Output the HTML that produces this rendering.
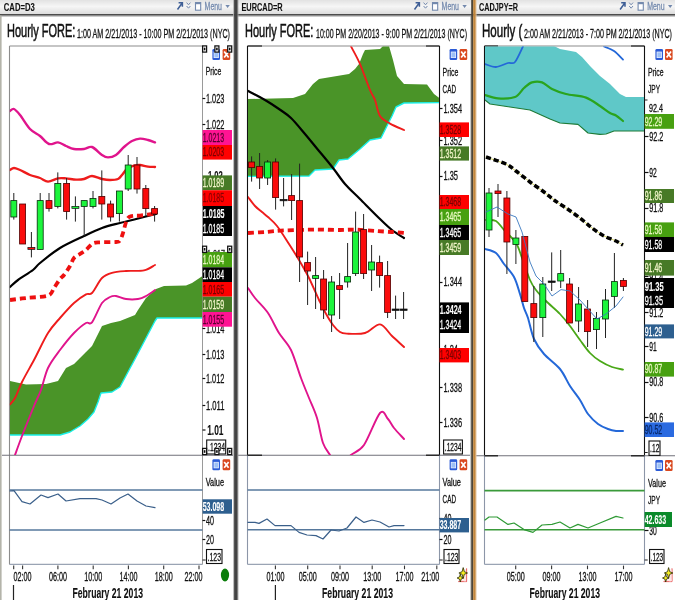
<!DOCTYPE html><html><head><meta charset="utf-8"><title>Hourly FOREX charts</title>
<style>html,body{margin:0;padding:0;background:#fff;overflow:hidden}svg{display:block;filter:blur(0.4px)}text{font-family:'Liberation Sans', Arial, sans-serif}</style></head><body>
<svg width="675" height="600" viewBox="0 0 675 600">
<defs><linearGradient id="tb" x1="0" y1="0" x2="0" y2="1"><stop offset="0" stop-color="#e2e2e2"/><stop offset="0.45" stop-color="#f6f6f6"/><stop offset="1" stop-color="#dcdcdc"/></linearGradient>
<linearGradient id="sh" x1="0" y1="0" x2="0" y2="1"><stop offset="0" stop-color="#8a8a8a"/><stop offset="1" stop-color="#ffffff"/></linearGradient>
<clipPath id="c1"><rect x="9.8" y="46.5" width="192.4" height="408.5"/></clipPath>
<clipPath id="c2"><rect x="248" y="46.5" width="191" height="408.5"/></clipPath>
<clipPath id="c3"><rect x="485" y="46.5" width="159" height="409"/></clipPath>
</defs>
<rect x="0.0" y="0.0" width="675.0" height="600.0" fill="#ffffff" />
<rect x="0.0" y="0.0" width="675.0" height="14.2" fill="url(#tb)" />
<rect x="0.0" y="14.2" width="675.0" height="1.3" fill="#222" />
<rect x="0.0" y="15.5" width="675.0" height="1.8" fill="url(#sh)" />
<line x1="9.5" y1="46.0" x2="202.5" y2="46.0" stroke="#8c8c8c" stroke-width="1.2" />
<line x1="9.5" y1="46.0" x2="9.5" y2="564.4" stroke="#8c8c8c" stroke-width="1.1" />
<line x1="202.5" y1="46.0" x2="202.5" y2="564.4" stroke="#9a9a9a" stroke-width="1.0" />
<line x1="2.0" y1="455.2" x2="233.0" y2="455.2" stroke="#70707a" stroke-width="1.1" />
<line x1="9.5" y1="564.4" x2="202.5" y2="564.4" stroke="#9aa4b4" stroke-width="1.1" />
<g clip-path="url(#c1)">
<polygon points="10.0,381.0 26.0,384.4 46.0,384.0 58.0,381.0 66.0,368.0 74.0,364.0 80.0,358.0 86.0,352.0 92.0,346.0 97.0,336.0 102.0,326.0 111.0,323.0 120.0,321.0 135.0,315.0 138.0,310.0 146.0,298.0 156.0,289.0 164.0,286.0 186.0,285.6 192.0,283.0 202.5,276.0 202.5,318.0 157.0,318.0 155.0,321.0 145.0,340.0 135.0,359.0 128.0,372.0 120.0,387.0 112.0,392.0 101.0,393.0 98.0,402.0 94.0,412.0 88.0,419.0 80.0,426.0 70.0,432.0 60.0,435.0 10.0,435.0" fill="#4a9428" />
<polyline points="202.5,318.0 157.0,318.0 155.0,321.0 145.0,340.0 135.0,359.0 128.0,372.0 120.0,387.0 112.0,392.0 101.0,393.0 98.0,402.0 94.0,412.0 88.0,419.0 80.0,426.0 70.0,432.0 60.0,435.0 10.0,435.0" fill="none" stroke="#19f0e8" stroke-width="1.4" stroke-linejoin="round" stroke-linecap="round" />
<path d="M10.0 111.0 C10.6 110.7 12.4 108.4 14.0 109.0 C15.6 109.6 17.4 111.8 20.0 115.0 C22.6 118.2 26.8 125.6 30.0 129.0 C33.2 132.4 37.0 133.6 40.0 136.0 C43.0 138.4 46.1 143.0 49.0 144.0 C51.9 145.0 55.3 142.1 58.0 142.4 C60.7 142.7 63.4 144.9 66.0 146.0 C68.6 147.1 71.1 148.5 74.0 149.0 C76.9 149.5 81.1 149.3 84.0 149.0 C86.9 148.7 89.1 146.0 92.0 147.0 C94.9 148.0 99.4 153.3 102.0 155.0 C104.6 156.7 105.8 157.4 108.0 157.4 C110.2 157.4 113.4 156.7 116.0 155.0 C118.6 153.3 121.4 149.2 124.0 147.0 C126.6 144.8 129.4 142.3 132.0 141.0 C134.6 139.7 137.4 138.8 140.0 138.6 C142.6 138.4 145.6 139.4 148.0 140.0 C150.4 140.6 153.9 142.0 155.0 142.4" fill="none" stroke="#e0148c" stroke-width="2.4" stroke-linejoin="round" stroke-linecap="round" />
<path d="M10.0 170.0 C10.6 169.7 12.4 168.0 14.0 168.0 C15.6 168.0 17.4 168.9 20.0 170.0 C22.6 171.1 26.8 173.7 30.0 175.0 C33.2 176.3 37.1 176.9 40.0 178.0 C42.9 179.1 45.1 181.5 48.0 181.6 C50.9 181.7 55.1 178.9 58.0 178.4 C60.9 177.9 63.1 178.2 66.0 178.4 C68.9 178.6 73.1 179.5 76.0 179.6 C78.9 179.7 81.4 179.6 84.0 179.0 C86.6 178.4 89.1 176.0 92.0 176.0 C94.9 176.0 99.1 178.4 102.0 179.0 C104.9 179.6 107.4 180.0 110.0 180.0 C112.6 180.0 116.1 179.8 118.0 179.0 C119.9 178.2 120.6 176.6 122.0 175.0 C123.4 173.4 125.1 170.5 127.0 169.0 C128.9 167.5 131.9 166.2 134.0 165.6 C136.1 165.0 137.8 164.8 140.0 165.0 C142.2 165.2 145.6 166.3 148.0 166.6 C150.4 166.9 153.9 166.9 155.0 167.0" fill="none" stroke="#ee1c1c" stroke-width="2.4" stroke-linejoin="round" stroke-linecap="round" />
<path d="M10.0 404.4 C10.8 403.4 13.1 401.6 15.0 398.0 C16.9 394.4 19.0 388.1 22.0 382.0 C25.0 375.9 29.8 367.8 34.0 360.0 C38.2 352.2 43.8 339.7 48.0 333.0 C52.2 326.3 55.8 322.8 60.0 318.0 C64.2 313.2 69.8 306.8 74.0 303.0 C78.2 299.2 83.1 296.0 86.0 294.4 C88.9 292.8 89.4 295.6 92.0 293.0 C94.6 290.4 98.8 281.2 102.0 278.0 C105.2 274.8 108.2 273.9 112.0 272.8 C115.8 271.7 120.9 271.4 126.0 271.0 C131.1 270.6 139.4 271.4 144.0 270.4 C148.6 269.4 153.2 265.9 155.0 265.0" fill="none" stroke="#ee1c1c" stroke-width="1.9" stroke-linejoin="round" stroke-linecap="round" />
<path d="M15.0 455.0 C16.1 452.0 19.0 443.8 22.0 436.0 C25.0 428.2 31.0 413.4 34.0 406.0 C37.0 398.6 38.8 396.1 41.0 390.0 C43.2 383.9 45.0 374.4 48.0 368.0 C51.0 361.6 55.8 355.6 60.0 350.0 C64.2 344.4 69.8 337.3 74.0 333.0 C78.2 328.7 83.1 324.7 86.0 323.0 C88.9 321.3 89.4 325.6 92.0 322.4 C94.6 319.2 99.1 307.1 102.0 303.0 C104.9 298.9 107.8 298.1 110.0 297.0 C112.2 295.9 113.4 295.7 116.0 296.0 C118.6 296.3 122.5 298.5 126.0 299.0 C129.5 299.5 134.8 299.5 138.0 299.0 C141.2 298.5 143.3 297.4 146.0 296.0 C148.7 294.6 153.6 291.0 155.0 290.0" fill="none" stroke="#e0148c" stroke-width="1.9" stroke-linejoin="round" stroke-linecap="round" />
<path d="M10.0 287.0 C11.3 285.9 14.3 282.7 18.0 280.0 C21.7 277.3 29.5 272.7 33.0 270.0 C36.5 267.3 35.7 266.5 40.0 263.0 C44.3 259.5 53.0 252.3 60.0 248.0 C67.0 243.7 77.3 239.2 84.0 236.0 C90.7 232.8 96.2 230.1 102.0 228.0 C107.8 225.9 113.9 224.6 120.0 223.0 C126.1 221.4 134.2 219.4 140.0 218.0 C145.8 216.6 153.4 214.6 156.0 214.0" fill="none" stroke="#000" stroke-width="2.2" stroke-linejoin="round" stroke-linecap="round" />
<path d="M10.0 300.0 C12.6 299.7 19.9 298.7 26.0 298.0 C32.1 297.3 43.5 297.2 48.0 295.6 C52.5 294.0 52.1 290.7 54.0 288.0 C55.9 285.3 58.4 281.1 60.0 279.0 C61.6 276.9 62.4 277.1 64.0 275.0 C65.6 272.9 68.4 268.7 70.0 266.0 C71.6 263.3 72.4 259.9 74.0 258.0 C75.6 256.1 78.1 255.3 80.0 254.0 C81.9 252.7 84.1 251.6 86.0 250.0 C87.9 248.4 90.1 245.2 92.0 244.0 C93.9 242.8 94.2 242.7 98.0 242.4 C101.8 242.1 112.5 242.3 116.0 242.0 C119.5 241.7 118.9 241.9 120.0 240.5 C121.1 239.1 121.9 236.4 123.0 233.0 C124.1 229.6 125.6 222.2 127.0 219.5 C128.4 216.8 129.9 216.6 132.0 216.0 C134.1 215.4 136.2 216.0 140.0 215.6 C143.8 215.2 153.4 213.9 156.0 213.6" fill="none" stroke="#ee1010" stroke-width="3.8" stroke-linejoin="round"  stroke-dasharray="6 4" stroke-linecap="butt"/>
<line x1="13.8" y1="193.0" x2="13.8" y2="219.6" stroke="#222" stroke-width="1" />
<rect x="10.8" y="200.6" width="6.0" height="16.4" fill="#1cf53c" stroke="#062a0a" stroke-width="0.8"/>
<line x1="22.6" y1="204.0" x2="22.6" y2="244.0" stroke="#222" stroke-width="1" />
<rect x="19.6" y="204.0" width="6.0" height="40.0" fill="#fa0c0c" stroke="#500000" stroke-width="0.8"/>
<line x1="31.4" y1="232.0" x2="31.4" y2="257.4" stroke="#222" stroke-width="1" />
<rect x="27.9" y="247.4" width="7.0" height="2.0" fill="#fa0c0c" stroke="#111" stroke-width="0.7"/>
<line x1="40.2" y1="193.0" x2="40.2" y2="249.4" stroke="#222" stroke-width="1" />
<rect x="37.2" y="200.6" width="6.0" height="48.8" fill="#1cf53c" stroke="#062a0a" stroke-width="0.8"/>
<line x1="49.0" y1="193.0" x2="49.0" y2="211.6" stroke="#222" stroke-width="1" />
<rect x="46.0" y="200.6" width="6.0" height="7.8" fill="#fa0c0c" stroke="#500000" stroke-width="0.8"/>
<line x1="57.8" y1="172.4" x2="57.8" y2="208.4" stroke="#222" stroke-width="1" />
<rect x="54.8" y="183.4" width="6.0" height="23.0" fill="#1cf53c" stroke="#062a0a" stroke-width="0.8"/>
<line x1="66.6" y1="178.0" x2="66.6" y2="219.6" stroke="#222" stroke-width="1" />
<rect x="63.6" y="183.4" width="6.0" height="28.2" fill="#fa0c0c" stroke="#500000" stroke-width="0.8"/>
<line x1="75.4" y1="196.4" x2="75.4" y2="221.6" stroke="#222" stroke-width="1" />
<rect x="71.9" y="206.4" width="7.0" height="2.0" fill="#1cf53c" stroke="#111" stroke-width="0.7"/>
<line x1="84.2" y1="200.6" x2="84.2" y2="236.0" stroke="#222" stroke-width="1" />
<rect x="81.2" y="200.6" width="6.0" height="5.8" fill="#1cf53c" stroke="#062a0a" stroke-width="0.8"/>
<line x1="93.0" y1="191.0" x2="93.0" y2="208.4" stroke="#222" stroke-width="1" />
<rect x="90.0" y="198.4" width="6.0" height="8.0" fill="#1cf53c" stroke="#062a0a" stroke-width="0.8"/>
<line x1="101.8" y1="170.4" x2="101.8" y2="219.6" stroke="#222" stroke-width="1" />
<rect x="98.8" y="196.4" width="6.0" height="7.6" fill="#fa0c0c" stroke="#500000" stroke-width="0.8"/>
<line x1="110.6" y1="200.6" x2="110.6" y2="221.6" stroke="#222" stroke-width="1" />
<rect x="107.6" y="204.0" width="6.0" height="13.0" fill="#fa0c0c" stroke="#500000" stroke-width="0.8"/>
<line x1="119.4" y1="191.0" x2="119.4" y2="221.6" stroke="#222" stroke-width="1" />
<rect x="116.4" y="191.0" width="6.0" height="22.6" fill="#1cf53c" stroke="#062a0a" stroke-width="0.8"/>
<line x1="128.2" y1="155.0" x2="128.2" y2="191.0" stroke="#222" stroke-width="1" />
<rect x="125.2" y="165.0" width="6.0" height="24.0" fill="#1cf53c" stroke="#062a0a" stroke-width="0.8"/>
<line x1="137.0" y1="157.0" x2="137.0" y2="193.6" stroke="#222" stroke-width="1" />
<rect x="134.0" y="165.0" width="6.0" height="24.0" fill="#fa0c0c" stroke="#500000" stroke-width="0.8"/>
<line x1="145.8" y1="185.0" x2="145.8" y2="216.0" stroke="#222" stroke-width="1" />
<rect x="142.8" y="188.6" width="6.0" height="20.0" fill="#fa0c0c" stroke="#500000" stroke-width="0.8"/>
<line x1="154.6" y1="206.0" x2="154.6" y2="221.6" stroke="#222" stroke-width="1" />
<rect x="151.6" y="208.6" width="6.0" height="5.4" fill="#fa0c0c" stroke="#500000" stroke-width="0.8"/>
</g>
<line x1="9.5" y1="490.0" x2="202.5" y2="490.0" stroke="#56789c" stroke-width="1.6" />
<line x1="9.5" y1="530.0" x2="202.5" y2="530.0" stroke="#56789c" stroke-width="1.6" />
<polyline points="10.0,491.0 14.0,490.6 22.0,501.6 30.0,504.0 41.0,495.0 48.0,497.6 58.0,494.0 66.0,501.0 80.0,498.6 96.0,498.6 102.0,500.0 111.0,504.0 120.0,498.0 128.0,494.0 137.0,501.0 146.0,506.0 155.0,507.6" fill="none" stroke="#3a5f8a" stroke-width="1.2" stroke-linejoin="round" stroke-linecap="round" />
<line x1="22.6" y1="565.6" x2="22.6" y2="569.2" stroke="#333" stroke-width="1.1" />
<text x="13.6" y="580.5" font-size="12" font-weight="normal" fill="#111" stroke="#111" stroke-width="0.3" textLength="18.0" lengthAdjust="spacingAndGlyphs" >02:00</text>
<line x1="57.9" y1="565.6" x2="57.9" y2="569.2" stroke="#333" stroke-width="1.1" />
<text x="48.9" y="580.5" font-size="12" font-weight="normal" fill="#111" stroke="#111" stroke-width="0.3" textLength="18.0" lengthAdjust="spacingAndGlyphs" >06:00</text>
<line x1="93.2" y1="565.6" x2="93.2" y2="569.2" stroke="#333" stroke-width="1.1" />
<text x="84.2" y="580.5" font-size="12" font-weight="normal" fill="#111" stroke="#111" stroke-width="0.3" textLength="18.0" lengthAdjust="spacingAndGlyphs" >10:00</text>
<line x1="128.4" y1="565.6" x2="128.4" y2="569.2" stroke="#333" stroke-width="1.1" />
<text x="119.4" y="580.5" font-size="12" font-weight="normal" fill="#111" stroke="#111" stroke-width="0.3" textLength="18.0" lengthAdjust="spacingAndGlyphs" >14:00</text>
<line x1="163.7" y1="565.6" x2="163.7" y2="569.2" stroke="#333" stroke-width="1.1" />
<text x="154.7" y="580.5" font-size="12" font-weight="normal" fill="#111" stroke="#111" stroke-width="0.3" textLength="18.0" lengthAdjust="spacingAndGlyphs" >18:00</text>
<line x1="199.0" y1="565.6" x2="199.0" y2="569.2" stroke="#333" stroke-width="1.1" />
<text x="184.4" y="580.5" font-size="12" font-weight="normal" fill="#111" stroke="#111" stroke-width="0.3" textLength="18.0" lengthAdjust="spacingAndGlyphs" >22:00</text>
<line x1="13.7" y1="565.6" x2="13.7" y2="569.2" stroke="#333" stroke-width="1.1" />
<line x1="13.5" y1="585.0" x2="13.5" y2="600.0" stroke="#222" stroke-width="1.2" />
<text x="72.5" y="598.0" font-size="14" font-weight="bold" fill="#111" stroke="#111" stroke-width="0.12" textLength="70.5" lengthAdjust="spacingAndGlyphs" >February 21 2013</text>
<line x1="202.5" y1="98.5" x2="205.3" y2="98.5" stroke="#111" stroke-width="1.2" />
<text x="205.9" y="102.9" font-size="12" font-weight="normal" fill="#111" stroke="#111" stroke-width="0.3" textLength="18.5" lengthAdjust="spacingAndGlyphs" >1.023</text>
<line x1="202.5" y1="124.5" x2="205.3" y2="124.5" stroke="#111" stroke-width="1.2" />
<text x="205.9" y="128.9" font-size="12" font-weight="normal" fill="#111" stroke="#111" stroke-width="0.3" textLength="18.5" lengthAdjust="spacingAndGlyphs" >1.022</text>
<text x="208.0" y="180.0" font-size="12" font-weight="bold" fill="#111" stroke="#111" stroke-width="0.12" textLength="14.8" lengthAdjust="spacingAndGlyphs" >1.02</text>
<rect x="202.6" y="130.0" width="29.4" height="15.0" fill="#ff1493" />
<text x="202.7" y="141.6" font-size="12" font-weight="normal" fill="#5a0030" stroke="#5a0030" stroke-width="0.3" textLength="21.4" lengthAdjust="spacingAndGlyphs" >1.0213</text>
<rect x="202.6" y="145.0" width="29.4" height="14.6" fill="#ff0000" />
<text x="202.7" y="156.4" font-size="12" font-weight="normal" fill="#7a0000" stroke="#7a0000" stroke-width="0.3" textLength="21.4" lengthAdjust="spacingAndGlyphs" >1.0203</text>
<rect x="202.6" y="175.4" width="29.4" height="14.8" fill="#477a26" />
<text x="202.7" y="186.9" font-size="12" font-weight="normal" fill="#f0f4c8" stroke="#f0f4c8" stroke-width="0.3" textLength="21.4" lengthAdjust="spacingAndGlyphs" >1.0189</text>
<rect x="202.6" y="190.2" width="29.4" height="15.8" fill="#ff0000" />
<text x="202.7" y="202.2" font-size="12" font-weight="normal" fill="#8a0000" stroke="#8a0000" stroke-width="0.3" textLength="21.4" lengthAdjust="spacingAndGlyphs" >1.0185</text>
<rect x="203.0" y="206.0" width="29.0" height="30.0" fill="#000" />
<text x="202.7" y="217.7" font-size="12" font-weight="bold" fill="#fff" stroke="#fff" stroke-width="0.12" textLength="21.9" lengthAdjust="spacingAndGlyphs" >1.0185</text>
<text x="202.7" y="232.9" font-size="12" font-weight="normal" fill="#fff" stroke="#fff" stroke-width="0.3" textLength="21.5" lengthAdjust="spacingAndGlyphs" >1.0185</text>
<text x="207.0" y="257.5" font-size="11" font-weight="normal" fill="#222" stroke="#222" stroke-width="0.3" textLength="18.0" lengthAdjust="spacingAndGlyphs" >1.017</text>
<rect x="202.6" y="252.0" width="29.4" height="15.3" fill="#47a010" />
<text x="202.7" y="263.8" font-size="12" font-weight="normal" fill="#e8f8c0" stroke="#e8f8c0" stroke-width="0.3" textLength="21.4" lengthAdjust="spacingAndGlyphs" >1.0184</text>
<rect x="202.6" y="267.3" width="29.4" height="14.7" fill="#000" />
<text x="202.7" y="278.8" font-size="12" font-weight="normal" fill="#fff" stroke="#fff" stroke-width="0.3" textLength="21.4" lengthAdjust="spacingAndGlyphs" >1.0184</text>
<rect x="202.6" y="282.0" width="29.4" height="14.7" fill="#ff0000" />
<text x="202.7" y="293.5" font-size="12" font-weight="normal" fill="#7a0000" stroke="#7a0000" stroke-width="0.3" textLength="21.4" lengthAdjust="spacingAndGlyphs" >1.0165</text>
<rect x="202.6" y="296.7" width="29.4" height="15.3" fill="#477a26" />
<text x="202.7" y="308.5" font-size="12" font-weight="normal" fill="#f0f4c8" stroke="#f0f4c8" stroke-width="0.3" textLength="21.4" lengthAdjust="spacingAndGlyphs" >1.0159</text>
<line x1="202.5" y1="328.5" x2="205.3" y2="328.5" stroke="#111" stroke-width="1.2" />
<text x="205.9" y="332.8" font-size="12" font-weight="normal" fill="#111" stroke="#111" stroke-width="0.3" textLength="18.5" lengthAdjust="spacingAndGlyphs" >1.014</text>
<rect x="202.6" y="312.0" width="29.4" height="14.7" fill="#ff1493" />
<text x="202.7" y="323.5" font-size="12" font-weight="normal" fill="#5a0030" stroke="#5a0030" stroke-width="0.3" textLength="21.4" lengthAdjust="spacingAndGlyphs" >1.0155</text>
<line x1="202.5" y1="354.5" x2="205.3" y2="354.5" stroke="#111" stroke-width="1.2" />
<text x="205.9" y="358.6" font-size="12" font-weight="normal" fill="#111" stroke="#111" stroke-width="0.3" textLength="18.5" lengthAdjust="spacingAndGlyphs" >1.013</text>
<line x1="202.5" y1="378.5" x2="205.3" y2="378.5" stroke="#111" stroke-width="1.2" />
<text x="205.9" y="382.9" font-size="12" font-weight="normal" fill="#111" stroke="#111" stroke-width="0.3" textLength="18.5" lengthAdjust="spacingAndGlyphs" >1.012</text>
<line x1="202.5" y1="405.5" x2="205.3" y2="405.5" stroke="#111" stroke-width="1.2" />
<text x="205.9" y="409.5" font-size="12" font-weight="normal" fill="#111" stroke="#111" stroke-width="0.3" textLength="18.5" lengthAdjust="spacingAndGlyphs" >1.011</text>
<line x1="202.5" y1="430.0" x2="205.5" y2="430.0" stroke="#222" stroke-width="1.3" />
<text x="207.2" y="435.3" font-size="14" font-weight="bold" fill="#111" stroke="#111" stroke-width="0.12" textLength="16.3" lengthAdjust="spacingAndGlyphs" >1.01</text>
<rect x="206.7" y="440.0" width="19.0" height="14.0" fill="#fff" stroke="#111" stroke-width="1.1"/>
<text x="208.0" y="451.3" font-size="11" font-weight="normal" fill="#111" stroke="#111" stroke-width="0.3" textLength="17.0" lengthAdjust="spacingAndGlyphs" >.1234</text>
<g transform="translate(212.4,49.0)"><rect x="0" y="0" width="7.6" height="11" rx="1.3" fill="#2b5bd6"/><rect x="1.6" y="3" width="4.4" height="5.6" fill="#9cc0f6" stroke="#e8f0ff" stroke-width="0.8"/></g>
<g transform="translate(222.6,49.0)"><rect x="0" y="0" width="7.6" height="11" rx="1.3" fill="#d9481f"/><path d="M1.6 2.6 L6 8.4 M6 2.6 L1.6 8.4" stroke="#fff" stroke-width="1.7" fill="none"/></g>
<text x="205.7" y="75.3" font-size="11" font-weight="normal" fill="#111" stroke="#111" stroke-width="0.3" textLength="15.6" lengthAdjust="spacingAndGlyphs" >Price</text>
<g transform="translate(212.4,459.3)"><rect x="0" y="0" width="7.6" height="11" rx="1.3" fill="#2b5bd6"/><rect x="1.6" y="3" width="4.4" height="5.6" fill="#9cc0f6" stroke="#e8f0ff" stroke-width="0.8"/></g>
<g transform="translate(222.6,459.3)"><rect x="0" y="0" width="7.6" height="11" rx="1.3" fill="#d9481f"/><path d="M1.6 2.6 L6 8.4 M6 2.6 L1.6 8.4" stroke="#fff" stroke-width="1.7" fill="none"/></g>
<text x="205.7" y="486.0" font-size="11" font-weight="normal" fill="#111" stroke="#111" stroke-width="0.3" textLength="18.3" lengthAdjust="spacingAndGlyphs" >Value</text>
<rect x="202.6" y="499.3" width="29.4" height="14.4" fill="#2d5f8f" />
<text x="202.7" y="510.6" font-size="12" font-weight="bold" fill="#fff" stroke="#fff" stroke-width="0.12" textLength="21.5" lengthAdjust="spacingAndGlyphs" >53.098</text>
<line x1="202.5" y1="520.5" x2="205.3" y2="520.5" stroke="#111" stroke-width="1.2" />
<text x="205.9" y="524.6" font-size="12" font-weight="normal" fill="#111" stroke="#111" stroke-width="0.3" textLength="8.0" lengthAdjust="spacingAndGlyphs" >40</text>
<line x1="202.5" y1="539.5" x2="205.3" y2="539.5" stroke="#111" stroke-width="1.2" />
<text x="205.9" y="543.8" font-size="12" font-weight="normal" fill="#111" stroke="#111" stroke-width="0.3" textLength="8.0" lengthAdjust="spacingAndGlyphs" >20</text>
<line x1="202.5" y1="560.0" x2="205.7" y2="560.0" stroke="#222" stroke-width="1" />
<rect x="206.5" y="549.5" width="15.5" height="14.0" fill="#fff" stroke="#111" stroke-width="1.1"/>
<text x="207.6" y="560.6" font-size="11" font-weight="normal" fill="#111" stroke="#111" stroke-width="0.3" textLength="13.4" lengthAdjust="spacingAndGlyphs" >.123</text>
<ellipse cx="225" cy="575" rx="4.1" ry="6.4" fill="#0a7d0a"/>
<line x1="247.5" y1="46.0" x2="439.5" y2="46.0" stroke="#8c8c8c" stroke-width="1.2" />
<line x1="247.5" y1="46.0" x2="262.0" y2="46.0" stroke="#222" stroke-width="1.2" />
<line x1="426.0" y1="46.0" x2="439.5" y2="46.0" stroke="#222" stroke-width="1.2" />
<line x1="247.5" y1="46.0" x2="247.5" y2="455.0" stroke="#111" stroke-width="1.1" />
<line x1="247.5" y1="455.0" x2="247.5" y2="564.4" stroke="#8c96a8" stroke-width="1.1" />
<line x1="439.5" y1="46.0" x2="439.5" y2="455.0" stroke="#111" stroke-width="1.1" />
<line x1="439.5" y1="455.0" x2="439.5" y2="564.4" stroke="#8c96a8" stroke-width="1.1" />
<line x1="238.0" y1="455.2" x2="470.0" y2="455.2" stroke="#70707a" stroke-width="1.1" />
<line x1="247.5" y1="455.2" x2="262.0" y2="455.2" stroke="#111" stroke-width="1.2" />
<line x1="426.0" y1="455.2" x2="439.5" y2="455.2" stroke="#111" stroke-width="1.2" />
<line x1="247.5" y1="564.4" x2="439.5" y2="564.4" stroke="#9aa4b4" stroke-width="1.1" />
<g clip-path="url(#c2)">
<polygon points="248.0,99.0 293.0,98.0 305.0,94.0 313.0,84.0 319.0,79.0 337.0,76.0 349.0,74.0 355.0,69.0 359.0,64.0 363.0,54.0 365.0,50.0 380.0,49.0 383.0,46.0 389.0,46.0 393.0,60.0 397.0,76.0 404.0,84.0 427.0,84.4 434.0,94.0 439.5,98.0 439.5,102.6 404.0,103.0 396.0,107.0 392.0,116.0 388.0,124.0 381.0,138.0 370.0,140.0 360.0,149.0 348.0,159.0 339.0,160.0 333.0,169.0 315.0,170.0 309.0,176.0 248.0,176.4" fill="#4a9428" />
<polyline points="439.5,102.6 404.0,103.0 396.0,107.0 392.0,116.0 388.0,124.0 381.0,138.0 370.0,140.0 360.0,149.0 348.0,159.0 339.0,160.0 333.0,169.0 315.0,170.0 309.0,176.0 248.0,176.4" fill="none" stroke="#19f0e8" stroke-width="1.4" stroke-linejoin="round" stroke-linecap="round" />
<path d="M351.0 46.4 C352.4 49.2 357.0 57.0 360.0 64.0 C363.0 71.0 367.6 84.2 370.0 90.0 C372.4 95.8 373.4 95.8 375.0 100.0 C376.6 104.2 377.6 112.2 380.0 116.0 C382.4 119.8 386.2 121.4 390.0 123.6 C393.8 125.8 401.8 129.0 404.0 130.0" fill="none" stroke="#ee1c1c" stroke-width="1.9" stroke-linejoin="round" stroke-linecap="round" />
<path d="M248.0 197.0 C249.1 198.4 252.8 203.6 255.0 206.0 C257.2 208.4 259.9 210.2 262.0 212.0 C264.1 213.8 265.6 214.8 268.0 217.0 C270.4 219.2 273.6 221.7 277.0 226.0 C280.4 230.3 285.5 238.6 289.0 244.0 C292.5 249.4 295.8 254.6 299.0 260.0 C302.2 265.4 305.8 271.6 309.0 278.0 C312.2 284.4 316.4 294.6 319.0 300.0 C321.6 305.4 322.8 308.0 325.0 312.0 C327.2 316.0 330.6 321.8 333.0 325.0 C335.4 328.2 337.8 330.6 340.0 332.0 C342.2 333.4 343.0 333.4 347.0 333.6 C351.0 333.8 359.7 334.5 365.0 333.0 C370.3 331.5 375.7 323.9 380.0 324.4 C384.3 324.9 388.2 332.4 392.0 336.0 C395.8 339.6 402.1 345.2 404.0 347.0" fill="none" stroke="#ee1c1c" stroke-width="1.9" stroke-linejoin="round" stroke-linecap="round" />
<path d="M248.0 288.0 C249.1 289.6 251.8 294.0 255.0 298.0 C258.2 302.0 264.2 307.4 268.0 313.0 C271.8 318.6 275.3 327.1 279.0 333.0 C282.7 338.9 287.5 342.8 291.0 350.0 C294.5 357.2 298.1 370.3 301.0 378.0 C303.9 385.7 306.4 391.6 309.0 398.0 C311.6 404.4 314.8 410.8 317.0 418.0 C319.2 425.2 320.9 437.1 323.0 443.0 C325.1 448.9 328.4 452.0 330.0 455.0 C331.6 458.0 332.5 460.9 333.0 462.0" fill="none" stroke="#e0148c" stroke-width="1.9" stroke-linejoin="round" stroke-linecap="round" />
<path d="M346.0 462.0 C346.8 460.9 348.1 457.7 351.0 455.0 C353.9 452.3 359.4 451.7 364.0 445.0 C368.6 438.3 376.2 417.2 380.0 413.0 C383.8 408.8 385.8 416.6 388.0 419.0 C390.2 421.4 391.4 424.8 394.0 428.0 C396.6 431.2 402.4 437.2 404.0 439.0" fill="none" stroke="#e0148c" stroke-width="1.9" stroke-linejoin="round" stroke-linecap="round" />
<path d="M248.0 91.0 C250.7 92.4 260.0 97.1 265.0 100.0 C270.0 102.9 274.8 106.1 279.0 109.0 C283.2 111.9 286.8 114.0 291.0 118.0 C295.2 122.0 300.5 128.7 305.0 134.0 C309.5 139.3 314.5 145.6 319.0 151.0 C323.5 156.4 328.8 162.7 333.0 168.0 C337.2 173.3 340.7 179.0 345.0 184.0 C349.3 189.0 354.4 193.4 360.0 199.0 C365.6 204.6 374.9 214.0 380.0 219.0 C385.1 224.0 388.2 227.0 392.0 230.0 C395.8 233.0 402.1 236.7 404.0 238.0" fill="none" stroke="#000" stroke-width="2.2" stroke-linejoin="round" stroke-linecap="round" />
<path d="M248.0 233.0 C250.7 232.8 259.1 232.4 265.0 232.0 C270.9 231.6 277.0 230.8 285.0 230.4 C293.0 230.0 306.2 229.7 315.0 229.6 C323.8 229.5 333.4 230.0 340.0 230.0 C346.6 230.0 350.2 229.4 356.0 229.6 C361.8 229.8 370.2 230.6 376.0 231.0 C381.8 231.4 387.5 231.7 392.0 232.0 C396.5 232.3 402.1 232.8 404.0 233.0" fill="none" stroke="#ee1010" stroke-width="3.8" stroke-linejoin="round"  stroke-dasharray="6 4" stroke-linecap="butt"/>
<line x1="251.6" y1="156.4" x2="251.6" y2="181.6" stroke="#222" stroke-width="1" />
<rect x="248.6" y="162.0" width="6.0" height="5.6" fill="#fa0c0c" stroke="#500000" stroke-width="0.8"/>
<line x1="259.6" y1="153.0" x2="259.6" y2="189.0" stroke="#222" stroke-width="1" />
<rect x="256.6" y="166.4" width="6.0" height="11.6" fill="#fa0c0c" stroke="#500000" stroke-width="0.8"/>
<line x1="267.6" y1="160.0" x2="267.6" y2="185.0" stroke="#222" stroke-width="1" />
<rect x="264.6" y="162.0" width="6.0" height="16.0" fill="#1cf53c" stroke="#062a0a" stroke-width="0.8"/>
<line x1="275.6" y1="158.4" x2="275.6" y2="209.6" stroke="#222" stroke-width="1" />
<rect x="272.6" y="162.0" width="6.0" height="35.6" fill="#fa0c0c" stroke="#500000" stroke-width="0.8"/>
<line x1="283.6" y1="178.0" x2="283.6" y2="206.4" stroke="#222" stroke-width="1" />
<rect x="280.1" y="199.4" width="7.0" height="1.4" fill="#111" stroke="#111" stroke-width="0.7"/>
<line x1="291.6" y1="174.0" x2="291.6" y2="220.0" stroke="#222" stroke-width="1" />
<rect x="288.6" y="195.6" width="6.0" height="5.0" fill="#fa0c0c" stroke="#500000" stroke-width="0.8"/>
<line x1="299.6" y1="163.6" x2="299.6" y2="282.0" stroke="#222" stroke-width="1" />
<rect x="296.6" y="200.6" width="6.0" height="56.4" fill="#fa0c0c" stroke="#500000" stroke-width="0.8"/>
<line x1="307.6" y1="251.6" x2="307.6" y2="305.0" stroke="#222" stroke-width="1" />
<rect x="304.6" y="262.6" width="6.0" height="8.4" fill="#fa0c0c" stroke="#500000" stroke-width="0.8"/>
<line x1="315.6" y1="257.0" x2="315.6" y2="309.0" stroke="#222" stroke-width="1" />
<rect x="312.6" y="275.6" width="6.0" height="2.8" fill="#1cf53c" stroke="#062a0a" stroke-width="0.8"/>
<line x1="323.6" y1="270.0" x2="323.6" y2="319.0" stroke="#222" stroke-width="1" />
<rect x="320.6" y="279.0" width="6.0" height="31.0" fill="#fa0c0c" stroke="#500000" stroke-width="0.8"/>
<line x1="331.6" y1="276.0" x2="331.6" y2="332.0" stroke="#222" stroke-width="1" />
<rect x="328.6" y="282.0" width="6.0" height="33.0" fill="#1cf53c" stroke="#062a0a" stroke-width="0.8"/>
<line x1="339.6" y1="273.0" x2="339.6" y2="319.0" stroke="#222" stroke-width="1" />
<rect x="336.6" y="285.6" width="6.0" height="3.8" fill="#fa0c0c" stroke="#500000" stroke-width="0.8"/>
<line x1="347.6" y1="243.0" x2="347.6" y2="287.6" stroke="#222" stroke-width="1" />
<rect x="344.6" y="276.6" width="6.0" height="5.4" fill="#1cf53c" stroke="#062a0a" stroke-width="0.8"/>
<line x1="355.6" y1="211.6" x2="355.6" y2="276.0" stroke="#222" stroke-width="1" />
<rect x="352.6" y="232.0" width="6.0" height="41.6" fill="#1cf53c" stroke="#062a0a" stroke-width="0.8"/>
<line x1="363.6" y1="214.0" x2="363.6" y2="279.0" stroke="#222" stroke-width="1" />
<rect x="360.6" y="229.6" width="6.0" height="44.0" fill="#fa0c0c" stroke="#500000" stroke-width="0.8"/>
<line x1="371.6" y1="245.0" x2="371.6" y2="291.0" stroke="#222" stroke-width="1" />
<rect x="368.6" y="262.0" width="6.0" height="8.0" fill="#1cf53c" stroke="#062a0a" stroke-width="0.8"/>
<line x1="379.6" y1="255.6" x2="379.6" y2="287.6" stroke="#222" stroke-width="1" />
<rect x="376.6" y="262.6" width="6.0" height="13.0" fill="#fa0c0c" stroke="#500000" stroke-width="0.8"/>
<line x1="387.6" y1="261.0" x2="387.6" y2="318.0" stroke="#222" stroke-width="1" />
<rect x="384.6" y="275.6" width="6.0" height="36.8" fill="#fa0c0c" stroke="#500000" stroke-width="0.8"/>
<line x1="395.6" y1="295.6" x2="395.6" y2="319.0" stroke="#222" stroke-width="1" />
<rect x="392.1" y="309.0" width="7.0" height="1.4" fill="#111" stroke="#111" stroke-width="0.7"/>
<line x1="403.6" y1="292.0" x2="403.6" y2="319.0" stroke="#222" stroke-width="1" />
<rect x="400.1" y="309.0" width="7.0" height="1.4" fill="#111" stroke="#111" stroke-width="0.7"/>
</g>
<line x1="247.5" y1="490.0" x2="439.5" y2="490.0" stroke="#56789c" stroke-width="1.6" />
<line x1="247.5" y1="529.8" x2="439.5" y2="529.8" stroke="#56789c" stroke-width="1.6" />
<polyline points="248.0,522.4 255.0,522.4 259.0,523.4 267.0,519.0 275.0,525.6 291.0,525.6 299.0,532.4 307.0,535.0 316.0,535.6 323.0,539.0 331.0,530.0 339.0,531.0 347.0,528.0 356.0,517.0 364.0,522.4 372.0,520.0 380.0,522.0 389.0,527.0 394.0,525.6 404.0,525.6" fill="none" stroke="#3a5f8a" stroke-width="1.2" stroke-linejoin="round" stroke-linecap="round" />
<line x1="275.4" y1="565.6" x2="275.4" y2="569.2" stroke="#333" stroke-width="1.1" />
<text x="266.4" y="580.5" font-size="12" font-weight="normal" fill="#111" stroke="#111" stroke-width="0.3" textLength="18.0" lengthAdjust="spacingAndGlyphs" >01:00</text>
<line x1="307.7" y1="565.6" x2="307.7" y2="569.2" stroke="#333" stroke-width="1.1" />
<text x="298.7" y="580.5" font-size="12" font-weight="normal" fill="#111" stroke="#111" stroke-width="0.3" textLength="18.0" lengthAdjust="spacingAndGlyphs" >05:00</text>
<line x1="340.0" y1="565.6" x2="340.0" y2="569.2" stroke="#333" stroke-width="1.1" />
<text x="331.0" y="580.5" font-size="12" font-weight="normal" fill="#111" stroke="#111" stroke-width="0.3" textLength="18.0" lengthAdjust="spacingAndGlyphs" >09:00</text>
<line x1="372.2" y1="565.6" x2="372.2" y2="569.2" stroke="#333" stroke-width="1.1" />
<text x="363.2" y="580.5" font-size="12" font-weight="normal" fill="#111" stroke="#111" stroke-width="0.3" textLength="18.0" lengthAdjust="spacingAndGlyphs" >13:00</text>
<line x1="404.5" y1="565.6" x2="404.5" y2="569.2" stroke="#333" stroke-width="1.1" />
<text x="395.5" y="580.5" font-size="12" font-weight="normal" fill="#111" stroke="#111" stroke-width="0.3" textLength="18.0" lengthAdjust="spacingAndGlyphs" >17:00</text>
<line x1="436.8" y1="565.6" x2="436.8" y2="569.2" stroke="#333" stroke-width="1.1" />
<text x="421.3" y="580.5" font-size="12" font-weight="normal" fill="#111" stroke="#111" stroke-width="0.3" textLength="18.0" lengthAdjust="spacingAndGlyphs" >21:00</text>
<line x1="275.4" y1="585.0" x2="275.4" y2="600.0" stroke="#222" stroke-width="1.2" />
<text x="322.0" y="598.0" font-size="14" font-weight="bold" fill="#111" stroke="#111" stroke-width="0.12" textLength="71.0" lengthAdjust="spacingAndGlyphs" >February 21 2013</text>
<g transform="translate(449.6,49.0)"><rect x="0" y="0" width="7.6" height="11" rx="1.3" fill="#2b5bd6"/><rect x="1.6" y="3" width="4.4" height="5.6" fill="#9cc0f6" stroke="#e8f0ff" stroke-width="0.8"/></g>
<g transform="translate(459.6,49.0)"><rect x="0" y="0" width="7.6" height="11" rx="1.3" fill="#d9481f"/><path d="M1.6 2.6 L6 8.4 M6 2.6 L1.6 8.4" stroke="#fff" stroke-width="1.7" fill="none"/></g>
<text x="442.6" y="76.0" font-size="11" font-weight="normal" fill="#111" stroke="#111" stroke-width="0.3" textLength="15.8" lengthAdjust="spacingAndGlyphs" >Price</text>
<text x="442.6" y="93.0" font-size="11" font-weight="normal" fill="#111" stroke="#111" stroke-width="0.3" textLength="13.4" lengthAdjust="spacingAndGlyphs" >CAD</text>
<line x1="439.5" y1="108.5" x2="442.5" y2="108.5" stroke="#111" stroke-width="1.2" />
<text x="443.5" y="113.2" font-size="12" font-weight="normal" fill="#111" stroke="#111" stroke-width="0.3" textLength="18.5" lengthAdjust="spacingAndGlyphs" >1.354</text>
<line x1="439.5" y1="140.5" x2="442.5" y2="140.5" stroke="#111" stroke-width="1.2" />
<text x="443.5" y="145.2" font-size="12" font-weight="normal" fill="#111" stroke="#111" stroke-width="0.3" textLength="18.5" lengthAdjust="spacingAndGlyphs" >1.352</text>
<rect x="439.6" y="122.4" width="29.4" height="14.6" fill="#ff0000" />
<text x="439.7" y="133.8" font-size="12" font-weight="normal" fill="#7a0000" stroke="#7a0000" stroke-width="0.3" textLength="21.4" lengthAdjust="spacingAndGlyphs" >1.3528</text>
<rect x="439.6" y="146.4" width="29.4" height="14.2" fill="#477a26" />
<text x="439.7" y="157.6" font-size="12" font-weight="normal" fill="#f0f4c8" stroke="#f0f4c8" stroke-width="0.3" textLength="21.4" lengthAdjust="spacingAndGlyphs" >1.3512</text>
<line x1="439.5" y1="176.5" x2="442.5" y2="176.5" stroke="#111" stroke-width="1.2" />
<text x="443.5" y="180.2" font-size="12" font-weight="normal" fill="#111" stroke="#111" stroke-width="0.3" textLength="14.5" lengthAdjust="spacingAndGlyphs" >1.35</text>
<rect x="439.6" y="195.0" width="29.4" height="14.0" fill="#ff0000" />
<text x="439.7" y="206.1" font-size="12" font-weight="normal" fill="#7a0000" stroke="#7a0000" stroke-width="0.3" textLength="21.4" lengthAdjust="spacingAndGlyphs" >1.3468</text>
<rect x="439.6" y="209.0" width="29.4" height="16.0" fill="#47a010" />
<text x="439.7" y="221.1" font-size="12" font-weight="normal" fill="#e8f8c0" stroke="#e8f8c0" stroke-width="0.3" textLength="21.4" lengthAdjust="spacingAndGlyphs" >1.3465</text>
<rect x="439.6" y="225.0" width="29.4" height="15.0" fill="#000" />
<text x="439.7" y="236.6" font-size="12" font-weight="normal" fill="#fff" stroke="#fff" stroke-width="0.3" textLength="21.4" lengthAdjust="spacingAndGlyphs" >1.3465</text>
<rect x="439.6" y="240.0" width="29.4" height="15.0" fill="#477a26" />
<text x="439.7" y="251.6" font-size="12" font-weight="normal" fill="#f0f4c8" stroke="#f0f4c8" stroke-width="0.3" textLength="21.4" lengthAdjust="spacingAndGlyphs" >1.3459</text>
<line x1="439.5" y1="282.5" x2="442.5" y2="282.5" stroke="#111" stroke-width="1.2" />
<text x="443.5" y="286.2" font-size="12" font-weight="normal" fill="#111" stroke="#111" stroke-width="0.3" textLength="18.5" lengthAdjust="spacingAndGlyphs" >1.344</text>
<rect x="440.0" y="302.4" width="29.0" height="30.6" fill="#000" />
<text x="439.7" y="313.9" font-size="12" font-weight="bold" fill="#fff" stroke="#fff" stroke-width="0.12" textLength="21.9" lengthAdjust="spacingAndGlyphs" >1.3424</text>
<text x="439.7" y="329.2" font-size="12" font-weight="normal" fill="#fff" stroke="#fff" stroke-width="0.3" textLength="21.5" lengthAdjust="spacingAndGlyphs" >1.3424</text>
<line x1="439.5" y1="350.5" x2="442.5" y2="350.5" stroke="#111" stroke-width="1.2" />
<text x="443.5" y="354.4" font-size="12" font-weight="normal" fill="#111" stroke="#111" stroke-width="0.3" textLength="14.5" lengthAdjust="spacingAndGlyphs" >1.34</text>
<rect x="439.6" y="348.0" width="29.4" height="14.4" fill="#ff0000" />
<text x="439.7" y="359.3" font-size="12" font-weight="normal" fill="#7a0000" stroke="#7a0000" stroke-width="0.3" textLength="21.4" lengthAdjust="spacingAndGlyphs" >1.3403</text>
<line x1="439.5" y1="387.5" x2="442.5" y2="387.5" stroke="#111" stroke-width="1.2" />
<text x="443.5" y="391.8" font-size="12" font-weight="normal" fill="#111" stroke="#111" stroke-width="0.3" textLength="18.5" lengthAdjust="spacingAndGlyphs" >1.338</text>
<line x1="439.5" y1="422.5" x2="442.5" y2="422.5" stroke="#111" stroke-width="1.2" />
<text x="443.5" y="427.2" font-size="12" font-weight="normal" fill="#111" stroke="#111" stroke-width="0.3" textLength="18.5" lengthAdjust="spacingAndGlyphs" >1.336</text>
<rect x="443.6" y="440.0" width="18.8" height="14.0" fill="#fff" stroke="#111" stroke-width="1.1"/>
<text x="444.8" y="451.3" font-size="11" font-weight="normal" fill="#111" stroke="#111" stroke-width="0.3" textLength="16.6" lengthAdjust="spacingAndGlyphs" >.1234</text>
<g transform="translate(449.6,459.3)"><rect x="0" y="0" width="7.6" height="11" rx="1.3" fill="#2b5bd6"/><rect x="1.6" y="3" width="4.4" height="5.6" fill="#9cc0f6" stroke="#e8f0ff" stroke-width="0.8"/></g>
<g transform="translate(459.6,459.3)"><rect x="0" y="0" width="7.6" height="11" rx="1.3" fill="#d9481f"/><path d="M1.6 2.6 L6 8.4 M6 2.6 L1.6 8.4" stroke="#fff" stroke-width="1.7" fill="none"/></g>
<text x="442.6" y="486.0" font-size="11" font-weight="normal" fill="#111" stroke="#111" stroke-width="0.3" textLength="18.4" lengthAdjust="spacingAndGlyphs" >Value</text>
<text x="442.6" y="503.0" font-size="11" font-weight="normal" fill="#111" stroke="#111" stroke-width="0.3" textLength="13.4" lengthAdjust="spacingAndGlyphs" >CAD</text>
<line x1="439.5" y1="518.5" x2="442.5" y2="518.5" stroke="#111" stroke-width="1.2" />
<text x="443.5" y="522.8" font-size="12" font-weight="normal" fill="#111" stroke="#111" stroke-width="0.3" textLength="8.0" lengthAdjust="spacingAndGlyphs" >40</text>
<rect x="439.6" y="518.0" width="29.4" height="14.4" fill="#2d5f8f" />
<text x="439.7" y="529.3" font-size="12" font-weight="bold" fill="#fff" stroke="#fff" stroke-width="0.12" textLength="21.5" lengthAdjust="spacingAndGlyphs" >33.887</text>
<line x1="439.5" y1="539.5" x2="442.5" y2="539.5" stroke="#111" stroke-width="1.2" />
<text x="443.5" y="543.8" font-size="12" font-weight="normal" fill="#111" stroke="#111" stroke-width="0.3" textLength="8.0" lengthAdjust="spacingAndGlyphs" >20</text>
<line x1="439.5" y1="560.0" x2="442.7" y2="560.0" stroke="#222" stroke-width="1" />
<rect x="444.0" y="549.5" width="15.0" height="14.0" fill="#fff" stroke="#111" stroke-width="1.1"/>
<text x="445.0" y="560.6" font-size="11" font-weight="normal" fill="#111" stroke="#111" stroke-width="0.3" textLength="13.4" lengthAdjust="spacingAndGlyphs" >.123</text>
<line x1="484.5" y1="46.0" x2="644.5" y2="46.0" stroke="#8c8c8c" stroke-width="1.2" />
<line x1="484.5" y1="46.0" x2="498.0" y2="46.0" stroke="#222" stroke-width="1.2" />
<line x1="631.0" y1="46.0" x2="644.5" y2="46.0" stroke="#222" stroke-width="1.2" />
<line x1="484.5" y1="46.0" x2="484.5" y2="455.6" stroke="#111" stroke-width="1.1" />
<line x1="484.5" y1="455.6" x2="484.5" y2="564.4" stroke="#8c96a8" stroke-width="1.1" />
<line x1="644.5" y1="46.0" x2="644.5" y2="455.6" stroke="#111" stroke-width="1.1" />
<line x1="644.5" y1="455.6" x2="644.5" y2="564.4" stroke="#8c96a8" stroke-width="1.1" />
<line x1="476.0" y1="455.8" x2="675.0" y2="455.8" stroke="#70707a" stroke-width="1.1" />
<line x1="484.5" y1="455.8" x2="498.0" y2="455.8" stroke="#111" stroke-width="1.2" />
<line x1="631.0" y1="455.8" x2="644.5" y2="455.8" stroke="#111" stroke-width="1.2" />
<line x1="484.5" y1="564.4" x2="644.5" y2="564.4" stroke="#9aa4b4" stroke-width="1.1" />
<g clip-path="url(#c3)">
<polygon points="485.0,46.0 554.0,46.0 560.0,49.0 576.0,52.0 582.0,57.0 590.0,66.0 600.0,76.0 610.0,84.0 620.0,94.0 626.0,97.0 644.5,97.0 644.5,131.0 614.0,131.0 606.0,134.0 600.0,134.4 588.0,133.0 578.0,124.4 560.0,123.0 550.0,119.0 540.0,114.5 530.0,110.0 510.0,107.0 490.0,104.0 485.0,100.0" fill="#5fc8c8" />
<polyline points="644.5,131.0 614.0,131.0 606.0,134.0 600.0,134.4 588.0,133.0 578.0,124.4 560.0,123.0 550.0,119.0 540.0,114.5 530.0,110.0 510.0,107.0 490.0,104.0 485.0,100.0" fill="none" stroke="#1e7a36" stroke-width="1.1" stroke-linejoin="round" stroke-linecap="round" />
<path d="M523.0 46.4 C521.7 48.9 517.4 59.3 515.0 62.0 C512.6 64.7 511.0 62.2 508.0 63.0 C505.0 63.8 499.7 66.8 496.0 67.0 C492.3 67.2 486.8 64.5 485.0 64.0" fill="none" stroke="#2468d8" stroke-width="1.8" stroke-linejoin="round" stroke-linecap="round" />
<path d="M604.0 46.4 C605.6 47.1 611.0 48.9 614.0 51.0 C617.0 53.1 621.6 58.2 623.0 59.6" fill="none" stroke="#2468d8" stroke-width="1.8" stroke-linejoin="round" stroke-linecap="round" />
<path d="M485.0 95.0 C487.1 95.5 493.2 98.1 498.0 98.4 C502.8 98.7 510.8 98.7 515.0 97.0 C519.2 95.3 521.3 90.3 524.0 88.0 C526.7 85.7 529.1 83.3 532.0 82.4 C534.9 81.5 538.8 81.3 542.0 82.4 C545.2 83.5 548.2 87.1 552.0 89.0 C555.8 90.9 560.6 92.6 566.0 94.0 C571.4 95.4 580.6 95.7 586.0 97.6 C591.4 99.5 596.2 103.5 600.0 106.0 C603.8 108.5 607.4 111.5 610.0 113.0 C612.6 114.5 613.9 114.2 616.0 115.5 C618.1 116.8 621.9 120.1 623.0 121.0" fill="none" stroke="#2aa41e" stroke-width="2.2" stroke-linejoin="round" stroke-linecap="round" />
<polyline points="486.0,157.0 506.0,164.0 516.0,171.0 530.0,182.0 544.0,192.0 554.0,200.0 566.0,208.0 580.0,218.0 592.0,228.0 604.0,236.0 616.0,241.0 623.0,245.0" fill="none" stroke="#d8d868" stroke-width="1.0" stroke-linejoin="round" stroke-linecap="round" />
<path d="M486.0 157.0 C489.2 158.1 501.2 161.8 506.0 164.0 C510.8 166.2 512.2 168.1 516.0 171.0 C519.8 173.9 525.5 178.6 530.0 182.0 C534.5 185.4 540.2 189.1 544.0 192.0 C547.8 194.9 550.5 197.4 554.0 200.0 C557.5 202.6 561.8 205.1 566.0 208.0 C570.2 210.9 575.8 214.8 580.0 218.0 C584.2 221.2 588.2 225.1 592.0 228.0 C595.8 230.9 600.2 233.9 604.0 236.0 C607.8 238.1 613.0 239.6 616.0 241.0 C619.0 242.4 621.9 244.4 623.0 245.0" fill="none" stroke="#000" stroke-width="3.5" stroke-linejoin="round"  stroke-dasharray="5.2 2.9" stroke-linecap="butt"/>
<path d="M486.0 220.0 C487.6 220.2 493.1 219.4 496.0 221.0 C498.9 222.6 500.8 226.5 504.0 230.0 C507.2 233.5 513.1 238.5 516.0 243.0 C518.9 247.5 519.8 252.1 522.0 258.0 C524.2 263.9 527.8 274.9 530.0 280.0 C532.2 285.1 533.4 286.6 536.0 290.0 C538.6 293.4 542.2 297.2 546.0 301.0 C549.8 304.8 556.2 310.0 560.0 314.0 C563.8 318.0 566.8 321.8 570.0 326.0 C573.2 330.2 576.8 335.7 580.0 340.0 C583.2 344.3 586.8 349.6 590.0 353.0 C593.2 356.4 596.5 358.8 600.0 361.0 C603.5 363.2 608.3 365.6 612.0 367.0 C615.7 368.4 621.2 369.2 623.0 369.6" fill="none" stroke="#4aa818" stroke-width="1.8" stroke-linejoin="round" stroke-linecap="round" />
<path d="M485.0 249.0 C486.8 249.6 493.0 250.6 496.0 253.0 C499.0 255.4 501.1 260.2 504.0 264.0 C506.9 267.8 511.4 272.2 514.0 277.0 C516.6 281.8 518.4 289.0 520.0 294.0 C521.6 299.0 522.7 304.2 524.0 308.0 C525.3 311.8 526.4 313.0 528.0 318.0 C529.6 323.0 531.4 333.2 534.0 339.0 C536.6 344.8 539.8 349.2 544.0 354.0 C548.2 358.8 555.8 363.9 560.0 369.0 C564.2 374.1 566.8 381.0 570.0 386.0 C573.2 391.0 577.1 395.5 580.0 400.0 C582.9 404.5 585.1 410.2 588.0 414.0 C590.9 417.8 594.8 421.6 598.0 424.0 C601.2 426.4 605.1 427.9 608.0 429.0 C610.9 430.1 613.6 430.7 616.0 431.0 C618.4 431.3 621.9 431.0 623.0 431.0" fill="none" stroke="#2468d8" stroke-width="2.0" stroke-linejoin="round" stroke-linecap="round" />
<line x1="489.0" y1="188.0" x2="489.0" y2="237.0" stroke="#222" stroke-width="1" />
<rect x="486.0" y="193.0" width="6.0" height="37.0" fill="#1cf53c" stroke="#062a0a" stroke-width="0.8"/>
<line x1="498.0" y1="184.0" x2="498.0" y2="217.0" stroke="#222" stroke-width="1" />
<rect x="495.0" y="191.0" width="6.0" height="2.6" fill="#fa0c0c" stroke="#500000" stroke-width="0.8"/>
<line x1="506.9" y1="191.0" x2="506.9" y2="274.0" stroke="#222" stroke-width="1" />
<rect x="503.9" y="198.0" width="6.0" height="44.0" fill="#fa0c0c" stroke="#500000" stroke-width="0.8"/>
<line x1="515.9" y1="230.0" x2="515.9" y2="264.0" stroke="#222" stroke-width="1" />
<rect x="512.9" y="238.0" width="6.0" height="6.4" fill="#1cf53c" stroke="#062a0a" stroke-width="0.8"/>
<line x1="524.8" y1="236.4" x2="524.8" y2="301.6" stroke="#222" stroke-width="1" />
<rect x="521.8" y="236.4" width="6.0" height="65.2" fill="#fa0c0c" stroke="#500000" stroke-width="0.8"/>
<line x1="533.8" y1="286.0" x2="533.8" y2="342.0" stroke="#222" stroke-width="1" />
<rect x="530.8" y="303.6" width="6.0" height="14.0" fill="#fa0c0c" stroke="#500000" stroke-width="0.8"/>
<line x1="542.8" y1="277.0" x2="542.8" y2="337.0" stroke="#222" stroke-width="1" />
<rect x="539.8" y="284.0" width="6.0" height="33.6" fill="#1cf53c" stroke="#062a0a" stroke-width="0.8"/>
<line x1="551.7" y1="252.4" x2="551.7" y2="291.0" stroke="#222" stroke-width="1" />
<rect x="548.2" y="281.0" width="7.0" height="1.4" fill="#111" stroke="#111" stroke-width="0.7"/>
<line x1="560.7" y1="250.0" x2="560.7" y2="288.0" stroke="#222" stroke-width="1" />
<rect x="557.7" y="273.6" width="6.0" height="7.4" fill="#1cf53c" stroke="#062a0a" stroke-width="0.8"/>
<line x1="569.6" y1="278.0" x2="569.6" y2="323.0" stroke="#222" stroke-width="1" />
<rect x="566.6" y="284.0" width="6.0" height="39.0" fill="#fa0c0c" stroke="#500000" stroke-width="0.8"/>
<line x1="578.6" y1="287.0" x2="578.6" y2="332.0" stroke="#222" stroke-width="1" />
<rect x="575.6" y="304.0" width="6.0" height="17.0" fill="#1cf53c" stroke="#062a0a" stroke-width="0.8"/>
<line x1="587.6" y1="300.0" x2="587.6" y2="347.0" stroke="#222" stroke-width="1" />
<rect x="584.6" y="309.0" width="6.0" height="22.6" fill="#fa0c0c" stroke="#500000" stroke-width="0.8"/>
<line x1="596.5" y1="312.0" x2="596.5" y2="349.0" stroke="#222" stroke-width="1" />
<rect x="593.5" y="318.4" width="6.0" height="11.2" fill="#1cf53c" stroke="#062a0a" stroke-width="0.8"/>
<line x1="605.5" y1="289.0" x2="605.5" y2="338.0" stroke="#222" stroke-width="1" />
<rect x="602.5" y="300.0" width="6.0" height="19.0" fill="#1cf53c" stroke="#062a0a" stroke-width="0.8"/>
<line x1="614.4" y1="253.0" x2="614.4" y2="308.0" stroke="#222" stroke-width="1" />
<rect x="611.4" y="281.6" width="6.0" height="14.8" fill="#1cf53c" stroke="#062a0a" stroke-width="0.8"/>
<line x1="623.4" y1="278.0" x2="623.4" y2="291.0" stroke="#222" stroke-width="1" />
<rect x="620.4" y="280.4" width="6.0" height="6.0" fill="#fa0c0c" stroke="#500000" stroke-width="0.8"/>
<polyline points="486.0,212.0 497.0,207.0 508.0,214.0 516.0,217.0 522.0,232.0 530.0,262.0 536.0,276.0 544.0,284.0 552.0,296.0 561.0,289.6 570.0,291.0 580.0,300.0 588.0,309.0 597.0,319.0 606.0,314.0 616.0,306.0 623.0,297.0" fill="none" stroke="#3a78c0" stroke-width="0.9" stroke-linejoin="round" stroke-linecap="round" />
</g>
<line x1="484.5" y1="490.6" x2="644.5" y2="490.6" stroke="#3a9a3a" stroke-width="1.6" />
<line x1="484.5" y1="529.8" x2="644.5" y2="529.8" stroke="#3a9a3a" stroke-width="1.6" />
<polyline points="485.0,520.0 489.0,517.0 497.0,517.0 508.0,524.4 514.0,523.0 524.0,529.6 533.0,532.4 542.0,525.0 552.0,524.4 560.0,522.0 570.0,528.0 578.0,524.4 588.0,528.0 600.0,523.0 616.0,516.4 623.0,518.0" fill="none" stroke="#2f9a35" stroke-width="1.2" stroke-linejoin="round" stroke-linecap="round" />
<line x1="515.7" y1="565.6" x2="515.7" y2="569.2" stroke="#333" stroke-width="1.1" />
<text x="506.7" y="580.5" font-size="12" font-weight="normal" fill="#111" stroke="#111" stroke-width="0.3" textLength="18.0" lengthAdjust="spacingAndGlyphs" >05:00</text>
<line x1="551.6" y1="565.6" x2="551.6" y2="569.2" stroke="#333" stroke-width="1.1" />
<text x="542.6" y="580.5" font-size="12" font-weight="normal" fill="#111" stroke="#111" stroke-width="0.3" textLength="18.0" lengthAdjust="spacingAndGlyphs" >09:00</text>
<line x1="587.5" y1="565.6" x2="587.5" y2="569.2" stroke="#333" stroke-width="1.1" />
<text x="578.5" y="580.5" font-size="12" font-weight="normal" fill="#111" stroke="#111" stroke-width="0.3" textLength="18.0" lengthAdjust="spacingAndGlyphs" >13:00</text>
<line x1="623.5" y1="565.6" x2="623.5" y2="569.2" stroke="#333" stroke-width="1.1" />
<text x="614.5" y="580.5" font-size="12" font-weight="normal" fill="#111" stroke="#111" stroke-width="0.3" textLength="18.0" lengthAdjust="spacingAndGlyphs" >17:00</text>
<text x="529.6" y="598.0" font-size="14" font-weight="bold" fill="#111" stroke="#111" stroke-width="0.12" textLength="70.4" lengthAdjust="spacingAndGlyphs" >February 21 2013</text>
<g transform="translate(655.4,49.0)"><rect x="0" y="0" width="7.6" height="11" rx="1.3" fill="#2b5bd6"/><rect x="1.6" y="3" width="4.4" height="5.6" fill="#9cc0f6" stroke="#e8f0ff" stroke-width="0.8"/></g>
<g transform="translate(665.0,49.0)"><rect x="0" y="0" width="7.6" height="11" rx="1.3" fill="#d9481f"/><path d="M1.6 2.6 L6 8.4 M6 2.6 L1.6 8.4" stroke="#fff" stroke-width="1.7" fill="none"/></g>
<text x="648.0" y="76.0" font-size="11" font-weight="normal" fill="#111" stroke="#111" stroke-width="0.3" textLength="15.6" lengthAdjust="spacingAndGlyphs" >Price</text>
<text x="648.0" y="93.0" font-size="11" font-weight="normal" fill="#111" stroke="#111" stroke-width="0.3" textLength="12.0" lengthAdjust="spacingAndGlyphs" >JPY</text>
<line x1="644.5" y1="100.0" x2="647.5" y2="100.0" stroke="#222" stroke-width="1" />
<text x="649.0" y="112.4" font-size="11" font-weight="normal" fill="#111" stroke="#111" stroke-width="0.3" textLength="14.0" lengthAdjust="spacingAndGlyphs" >92.4</text>
<rect x="644.6" y="114.0" width="29.4" height="14.8" fill="#47a010" />
<text x="644.7" y="125.5" font-size="12" font-weight="normal" fill="#e8f8c0" stroke="#e8f8c0" stroke-width="0.3" textLength="17.5" lengthAdjust="spacingAndGlyphs" >92.29</text>
<line x1="644.5" y1="136.5" x2="648.5" y2="136.5" stroke="#111" stroke-width="1.2" />
<text x="649.3" y="141.2" font-size="12" font-weight="normal" fill="#111" stroke="#111" stroke-width="0.3" textLength="14.0" lengthAdjust="spacingAndGlyphs" >92.2</text>
<line x1="644.5" y1="172.5" x2="648.5" y2="172.5" stroke="#111" stroke-width="1.2" />
<text x="649.3" y="176.6" font-size="12" font-weight="normal" fill="#111" stroke="#111" stroke-width="0.3" textLength="7.5" lengthAdjust="spacingAndGlyphs" >92</text>
<line x1="644.5" y1="208.5" x2="648.5" y2="208.5" stroke="#111" stroke-width="1.2" />
<text x="649.3" y="212.2" font-size="12" font-weight="normal" fill="#111" stroke="#111" stroke-width="0.3" textLength="14.0" lengthAdjust="spacingAndGlyphs" >91.8</text>
<rect x="644.6" y="189.0" width="29.4" height="14.0" fill="#477a26" />
<text x="644.7" y="200.1" font-size="12" font-weight="normal" fill="#f0f4c8" stroke="#f0f4c8" stroke-width="0.3" textLength="17.5" lengthAdjust="spacingAndGlyphs" >91.86</text>
<rect x="644.6" y="222.4" width="29.4" height="14.6" fill="#47a010" />
<text x="644.7" y="233.8" font-size="12" font-weight="normal" fill="#e8f8c0" stroke="#e8f8c0" stroke-width="0.3" textLength="17.5" lengthAdjust="spacingAndGlyphs" >91.58</text>
<rect x="644.6" y="237.0" width="29.4" height="15.0" fill="#000" />
<text x="644.7" y="248.6" font-size="12" font-weight="normal" fill="#fff" stroke="#fff" stroke-width="0.3" textLength="17.5" lengthAdjust="spacingAndGlyphs" >91.58</text>
<line x1="644.5" y1="276.5" x2="648.5" y2="276.5" stroke="#111" stroke-width="1.2" />
<text x="649.3" y="281.2" font-size="12" font-weight="normal" fill="#111" stroke="#111" stroke-width="0.3" textLength="14.0" lengthAdjust="spacingAndGlyphs" >91.4</text>
<rect x="644.6" y="260.0" width="29.4" height="15.6" fill="#477a26" />
<text x="644.7" y="271.9" font-size="12" font-weight="normal" fill="#f0f4c8" stroke="#f0f4c8" stroke-width="0.3" textLength="17.5" lengthAdjust="spacingAndGlyphs" >91.46</text>
<rect x="645.0" y="278.0" width="29.0" height="30.0" fill="#000" />
<text x="644.7" y="290.8" font-size="12" font-weight="bold" fill="#fff" stroke="#fff" stroke-width="0.12" textLength="18.9" lengthAdjust="spacingAndGlyphs" >91.35</text>
<text x="644.7" y="304.9" font-size="12" font-weight="normal" fill="#fff" stroke="#fff" stroke-width="0.3" textLength="18.3" lengthAdjust="spacingAndGlyphs" >91.35</text>
<line x1="644.5" y1="312.5" x2="648.5" y2="312.5" stroke="#111" stroke-width="1.2" />
<text x="649.3" y="317.2" font-size="12" font-weight="normal" fill="#111" stroke="#111" stroke-width="0.3" textLength="14.0" lengthAdjust="spacingAndGlyphs" >91.2</text>
<rect x="644.6" y="324.4" width="29.4" height="14.0" fill="#2d5f8f" />
<text x="644.7" y="335.5" font-size="12" font-weight="normal" fill="#fff" stroke="#fff" stroke-width="0.3" textLength="17.5" lengthAdjust="spacingAndGlyphs" >91.29</text>
<line x1="644.5" y1="346.5" x2="648.5" y2="346.5" stroke="#111" stroke-width="1.2" />
<text x="649.3" y="351.2" font-size="12" font-weight="normal" fill="#111" stroke="#111" stroke-width="0.3" textLength="7.5" lengthAdjust="spacingAndGlyphs" >91</text>
<rect x="644.6" y="362.0" width="29.4" height="14.6" fill="#47a010" />
<text x="644.7" y="373.4" font-size="12" font-weight="normal" fill="#e8f8c0" stroke="#e8f8c0" stroke-width="0.3" textLength="17.5" lengthAdjust="spacingAndGlyphs" >90.87</text>
<line x1="644.5" y1="382.5" x2="648.5" y2="382.5" stroke="#111" stroke-width="1.2" />
<text x="649.3" y="386.2" font-size="12" font-weight="normal" fill="#111" stroke="#111" stroke-width="0.3" textLength="14.0" lengthAdjust="spacingAndGlyphs" >90.8</text>
<line x1="644.5" y1="417.5" x2="648.5" y2="417.5" stroke="#111" stroke-width="1.2" />
<text x="649.3" y="421.8" font-size="12" font-weight="normal" fill="#111" stroke="#111" stroke-width="0.3" textLength="14.0" lengthAdjust="spacingAndGlyphs" >90.6</text>
<rect x="644.6" y="422.4" width="29.4" height="14.6" fill="#2a6ae0" />
<text x="644.7" y="433.8" font-size="12" font-weight="normal" fill="#0a2a6a" stroke="#0a2a6a" stroke-width="0.3" textLength="17.5" lengthAdjust="spacingAndGlyphs" >90.52</text>
<line x1="644.5" y1="452.5" x2="647.7" y2="452.5" stroke="#222" stroke-width="1" />
<rect x="649.0" y="441.0" width="11.0" height="14.4" fill="#fff" stroke="#111" stroke-width="1.1"/>
<text x="650.0" y="452.4" font-size="11" font-weight="normal" fill="#111" stroke="#111" stroke-width="0.3" textLength="9.4" lengthAdjust="spacingAndGlyphs" >.12</text>
<g transform="translate(655.4,460.0)"><rect x="0" y="0" width="7.6" height="11" rx="1.3" fill="#2b5bd6"/><rect x="1.6" y="3" width="4.4" height="5.6" fill="#9cc0f6" stroke="#e8f0ff" stroke-width="0.8"/></g>
<g transform="translate(665.0,460.0)"><rect x="0" y="0" width="7.6" height="11" rx="1.3" fill="#d9481f"/><path d="M1.6 2.6 L6 8.4 M6 2.6 L1.6 8.4" stroke="#fff" stroke-width="1.7" fill="none"/></g>
<text x="648.0" y="487.0" font-size="11" font-weight="normal" fill="#111" stroke="#111" stroke-width="0.3" textLength="18.0" lengthAdjust="spacingAndGlyphs" >Value</text>
<text x="648.0" y="504.0" font-size="11" font-weight="normal" fill="#111" stroke="#111" stroke-width="0.3" textLength="12.0" lengthAdjust="spacingAndGlyphs" >JPY</text>
<line x1="644.5" y1="530.5" x2="648.5" y2="530.5" stroke="#111" stroke-width="1.2" />
<text x="649.3" y="535.2" font-size="12" font-weight="normal" fill="#111" stroke="#111" stroke-width="0.3" textLength="7.5" lengthAdjust="spacingAndGlyphs" >30</text>
<rect x="644.6" y="512.0" width="27.4" height="15.0" fill="#0a8a2a" />
<text x="644.7" y="523.6" font-size="12" font-weight="bold" fill="#fff" stroke="#fff" stroke-width="0.12" textLength="21.5" lengthAdjust="spacingAndGlyphs" >42.633</text>
<line x1="644.5" y1="560.0" x2="647.7" y2="560.0" stroke="#222" stroke-width="1" />
<rect x="649.6" y="549.5" width="14.4" height="14.0" fill="#fff" stroke="#111" stroke-width="1.1"/>
<text x="650.6" y="560.6" font-size="11" font-weight="normal" fill="#111" stroke="#111" stroke-width="0.3" textLength="12.6" lengthAdjust="spacingAndGlyphs" >.123</text>
<g transform="translate(457.4,567.4)">
<path d="M9.2 1 V14.2 H0.8" stroke="#e03030" stroke-width="0.9" fill="none"/>
<rect x="6.4" y="2" width="2.4" height="12" fill="#fde4e4"/><rect x="1" y="12" width="7.6" height="1.8" fill="#fde4e4"/>
<polygon points="5.8,0.2 6.9,4.3 10.1,5.6 6.9,6.9 5.8,11.0 4.7,6.9 1.5,5.6 4.7,4.3" fill="#f6ee20" stroke="#2a2a00" stroke-width="0.8"/>
<polygon points="2.9,6.6 3.7,9.5 6.1,10.6 3.7,11.7 2.9,14.6 2.1,11.7 -0.3,10.6 2.1,9.5" fill="#f6ee20" stroke="#2a2a00" stroke-width="0.8"/>
</g>
<g transform="translate(662.8,567.4)">
<path d="M9.2 1 V14.2 H0.8" stroke="#e03030" stroke-width="0.9" fill="none"/>
<rect x="6.4" y="2" width="2.4" height="12" fill="#fde4e4"/><rect x="1" y="12" width="7.6" height="1.8" fill="#fde4e4"/>
<polygon points="5.8,0.2 6.9,4.3 10.1,5.6 6.9,6.9 5.8,11.0 4.7,6.9 1.5,5.6 4.7,4.3" fill="#f6ee20" stroke="#2a2a00" stroke-width="0.8"/>
<polygon points="2.9,6.6 3.7,9.5 6.1,10.6 3.7,11.7 2.9,14.6 2.1,11.7 -0.3,10.6 2.1,9.5" fill="#f6ee20" stroke="#2a2a00" stroke-width="0.8"/>
</g>
<rect x="202.6" y="45.9" width="4.0" height="6.2" fill="#fff" stroke="#111" stroke-width="1.25"/>
<rect x="203.8" y="47.7" width="1.6" height="2.6" fill="#111" />
<rect x="214.9" y="45.9" width="4.0" height="6.2" fill="#fff" stroke="#111" stroke-width="1.25"/>
<rect x="216.1" y="47.7" width="1.6" height="2.6" fill="#111" />
<rect x="227.7" y="45.9" width="4.0" height="6.2" fill="#fff" stroke="#111" stroke-width="1.25"/>
<rect x="228.9" y="47.7" width="1.6" height="2.6" fill="#111" />
<rect x="202.6" y="246.2" width="4.0" height="6.2" fill="#fff" stroke="#111" stroke-width="1.25"/>
<rect x="203.8" y="248.0" width="1.6" height="2.6" fill="#111" />
<rect x="227.7" y="246.2" width="4.0" height="6.2" fill="#fff" stroke="#111" stroke-width="1.25"/>
<rect x="228.9" y="248.0" width="1.6" height="2.6" fill="#111" />
<rect x="202.6" y="448.4" width="4.0" height="6.2" fill="#fff" stroke="#111" stroke-width="1.25"/>
<rect x="203.8" y="450.2" width="1.6" height="2.6" fill="#111" />
<rect x="214.9" y="448.4" width="4.0" height="6.2" fill="#fff" stroke="#111" stroke-width="1.25"/>
<rect x="216.1" y="450.2" width="1.6" height="2.6" fill="#111" />
<rect x="227.7" y="448.4" width="4.0" height="6.2" fill="#fff" stroke="#111" stroke-width="1.25"/>
<rect x="228.9" y="450.2" width="1.6" height="2.6" fill="#111" />
<text x="3.8" y="10.8" font-size="11.5" font-weight="bold" fill="#111" stroke="#111" stroke-width="0.12" textLength="31.0" lengthAdjust="spacingAndGlyphs" >CAD=D3</text>
<text x="241.4" y="10.8" font-size="11.5" font-weight="bold" fill="#111" stroke="#111" stroke-width="0.12" textLength="41.2" lengthAdjust="spacingAndGlyphs" >EURCAD=R</text>
<text x="479.0" y="10.8" font-size="11.5" font-weight="bold" fill="#111" stroke="#111" stroke-width="0.12" textLength="39.0" lengthAdjust="spacingAndGlyphs" >CADJPY=R</text>
<svg x="7" y="18" width="66.9" height="26" viewBox="0 0 66.9 26">
<text x="0.0" y="18.8" font-size="18" font-weight="normal" fill="#111" stroke="#111" stroke-width="0.55" textLength="68.4" lengthAdjust="spacingAndGlyphs" >Hourly FORE:</text>
</svg>
<svg x="245" y="18" width="68.4" height="26" viewBox="0 0 68.4 26">
<text x="0.0" y="18.8" font-size="18" font-weight="normal" fill="#111" stroke="#111" stroke-width="0.55" textLength="68.4" lengthAdjust="spacingAndGlyphs" >Hourly FORE:</text>
</svg>
<svg x="482" y="18" width="39.3" height="26" viewBox="0 0 39.3 26">
<text x="0.0" y="18.8" font-size="18" font-weight="normal" fill="#111" stroke="#111" stroke-width="0.55" textLength="40.4" lengthAdjust="spacingAndGlyphs" >Hourly (</text>
</svg>
<text x="77.0" y="38.0" font-size="13" font-weight="normal" fill="#111" stroke="#111" stroke-width="0.3" textLength="153.0" lengthAdjust="spacingAndGlyphs" >1:00 AM 2/21/2013 - 10:00 PM 2/21/2013 (NYC)</text>
<text x="316.0" y="38.0" font-size="13" font-weight="normal" fill="#111" stroke="#111" stroke-width="0.3" textLength="151.0" lengthAdjust="spacingAndGlyphs" >10:00 PM 2/20/2013 - 9:00 PM 2/21/2013 (NYC)</text>
<text x="524.0" y="38.0" font-size="13" font-weight="normal" fill="#111" stroke="#111" stroke-width="0.3" textLength="148.0" lengthAdjust="spacingAndGlyphs" >2:00 AM 2/21/2013 - 7:00 PM 2/21/2013 (NYC)</text>
<path d="M177.5 9.5 L182.0 3.2 M178.6 2.8 H182.4 V6.8" stroke="#3f5f96" stroke-width="1.5" fill="none"/>
<path d="M186.6 2.6 l1.9 2.2 l1.9 -2.2 M186.6 6 l1.9 2.2 l1.9 -2.2" stroke="#7389ad" stroke-width="1" fill="none"/>
<rect x="195.5" y="2.6" width="5.2" height="7.6" fill="#fff" stroke="#7389ad" stroke-width="1.1"/>
<rect x="195.5" y="2.4" width="5.2" height="1.8" fill="#7389ad" />
<text x="204.6" y="10.0" font-size="11" font-weight="normal" fill="#7389ad" stroke="#7389ad" stroke-width="0.3" textLength="17.4" lengthAdjust="spacingAndGlyphs" >Menu</text>
<path d="M225.4 5 h4.4 l-2.2 3 z" fill="#7389ad"/>
<path d="M414.5 9.5 L419.0 3.2 M415.6 2.8 H419.4 V6.8" stroke="#3f5f96" stroke-width="1.5" fill="none"/>
<path d="M423.6 2.6 l1.9 2.2 l1.9 -2.2 M423.6 6 l1.9 2.2 l1.9 -2.2" stroke="#7389ad" stroke-width="1" fill="none"/>
<rect x="432.5" y="2.6" width="5.2" height="7.6" fill="#fff" stroke="#7389ad" stroke-width="1.1"/>
<rect x="432.5" y="2.4" width="5.2" height="1.8" fill="#7389ad" />
<text x="441.6" y="10.0" font-size="11" font-weight="normal" fill="#7389ad" stroke="#7389ad" stroke-width="0.3" textLength="17.4" lengthAdjust="spacingAndGlyphs" >Menu</text>
<path d="M462.4 5 h4.4 l-2.2 3 z" fill="#7389ad"/>
<path d="M620.1 9.5 L624.6 3.2 M621.2 2.8 H625.0 V6.8" stroke="#3f5f96" stroke-width="1.5" fill="none"/>
<path d="M629.2 2.6 l1.9 2.2 l1.9 -2.2 M629.2 6 l1.9 2.2 l1.9 -2.2" stroke="#7389ad" stroke-width="1" fill="none"/>
<rect x="638.1" y="2.6" width="5.2" height="7.6" fill="#fff" stroke="#7389ad" stroke-width="1.1"/>
<rect x="638.1" y="2.4" width="5.2" height="1.8" fill="#7389ad" />
<text x="647.2" y="10.0" font-size="11" font-weight="normal" fill="#7389ad" stroke="#7389ad" stroke-width="0.3" textLength="17.4" lengthAdjust="spacingAndGlyphs" >Menu</text>
<path d="M668.0 5 h4.4 l-2.2 3 z" fill="#7389ad"/>
<rect x="0.0" y="15.5" width="1.6" height="584.5" fill="#b4b4aa" />
<rect x="233.2" y="0.0" width="0.9" height="600.0" fill="#b0b0b0" />
<rect x="234.1" y="0.0" width="3.7" height="600.0" fill="#434343" />
<rect x="237.6" y="0.0" width="0.8" height="600.0" fill="#a0a0a0" />
<rect x="470.4" y="15.5" width="0.9" height="585.0" fill="#a8a8a0" />
<rect x="471.2" y="0.0" width="2.1" height="600.0" fill="#4c463a" />
<rect x="473.2" y="0.0" width="2.6" height="600.0" fill="#c2873c" />
<rect x="475.7" y="0.0" width="0.8" height="600.0" fill="#e6c8a0" />
</svg></body></html>
